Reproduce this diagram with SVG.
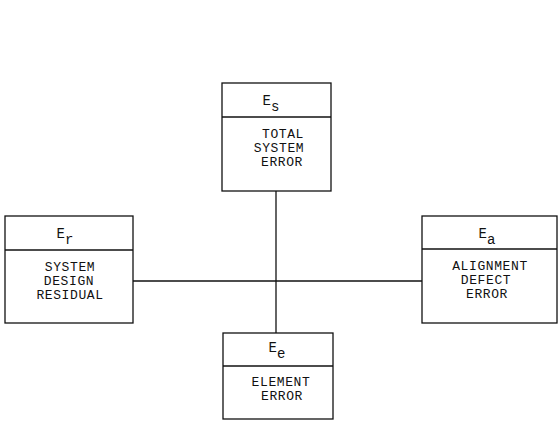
<svg xmlns="http://www.w3.org/2000/svg" width="559" height="423" viewBox="0 0 559 423">
<style>
.box{fill:#fff;stroke:#111;stroke-width:1.3}
.ln{stroke:#111;stroke-width:1.3;fill:none}
text{font-family:"Liberation Mono","DejaVu Sans Mono",monospace;font-size:13px;letter-spacing:0.6px;fill:#111;text-anchor:middle}
.e{font-size:14px;letter-spacing:0}
</style>
<rect width="559" height="423" fill="#fff"/>
<g id="connectors">
<line class="ln" x1="133" y1="281" x2="422" y2="281"/>
<line class="ln" x1="276" y1="191" x2="276" y2="333"/>
</g>
<g id="Es">
<rect class="box" x="222" y="83" width="109" height="108"/>
<line class="ln" x1="222" y1="117" x2="331" y2="117"/>
<text class="e" x="271" y="105">E<tspan dy="6">s</tspan></text>
<text x="283" y="138">TOTAL</text>
<text x="279" y="152">SYSTEM</text>
<text x="282" y="166">ERROR</text>
</g>
<g id="Er">
<rect class="box" x="5" y="216" width="128" height="107"/>
<line class="ln" x1="5" y1="250" x2="133" y2="250"/>
<text class="e" x="65" y="238">E<tspan dy="6">r</tspan></text>
<text x="70" y="271">SYSTEM</text>
<text x="69" y="285">DESIGN</text>
<text x="70" y="299">RESIDUAL</text>
</g>
<g id="Ea">
<rect class="box" x="422" y="216" width="135" height="107"/>
<line class="ln" x1="422" y1="249" x2="557" y2="249"/>
<text class="e" x="487" y="238">E<tspan dy="6">a</tspan></text>
<text x="490" y="270">ALIGNMENT</text>
<text x="486" y="284">DEFECT</text>
<text x="487" y="298">ERROR</text>
</g>
<g id="Ee">
<rect class="box" x="223" y="333" width="110" height="86"/>
<line class="ln" x1="223" y1="366" x2="333" y2="366"/>
<text class="e" x="277" y="352">E<tspan dy="6">e</tspan></text>
<text x="281" y="386">ELEMENT</text>
<text x="282" y="400">ERROR</text>
</g>
</svg>
